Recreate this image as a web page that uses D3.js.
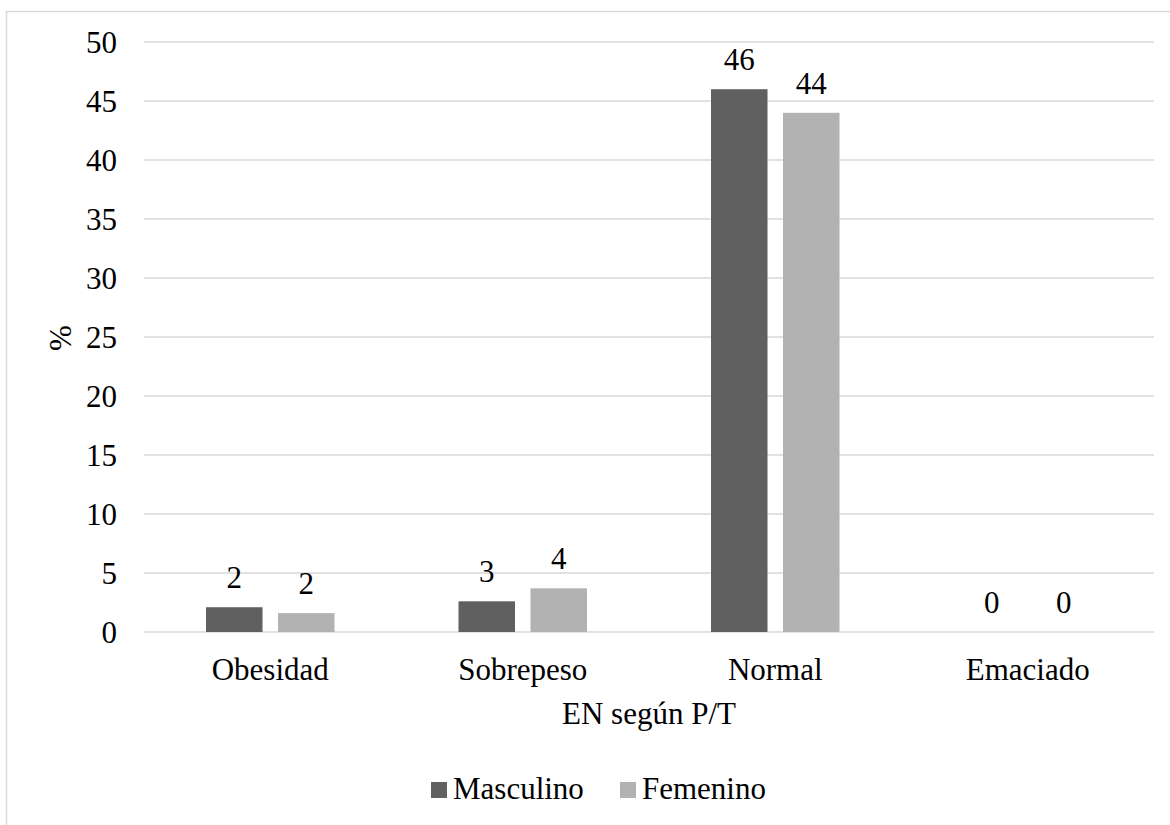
<!DOCTYPE html>
<html>
<head>
<meta charset="utf-8">
<script src="https://cdn.jsdelivr.net/npm/d3@7"></script>
<style>
  html, body { margin: 0; padding: 0; background: #ffffff; }
  svg { display: block; }
  svg text { font-family: "Liberation Serif", "Times New Roman", Tinos, "DejaVu Serif", serif; fill: #000; }
</style>
</head>
<body>
<svg id="chart" width="1170" height="825"></svg>
<script>
// Nutritional status by weight-for-height (P/T), percentage per sex
const categories = ["Obesidad", "Sobrepeso", "Normal", "Emaciado"];
const seriesNames = ["Masculino", "Femenino"];
const masculino = [2.1, 2.6, 46.0, 0];
const femenino = [1.6, 3.7, 44.0, 0];
const yTicks = [0, 5, 10, 15, 20, 25, 30, 35, 40, 45, 50];
const colors = ["#606060", "#b2b2b2"];

const seriesValues = [masculino, femenino];
const rows = categories.map((c, i) => ({
  category: c,
  values: seriesNames.map((s, j) => ({ series: s, value: seriesValues[j][i], idx: j }))
}));

const W = 1170, H = 825;
const margin = { left: 144, right: 16, top: 42, bottom: 193 };
const plotW = W - margin.left - margin.right;
const plotH = H - margin.top - margin.bottom;
const fontSize = 31;
const serif = '"Liberation Serif", "Times New Roman", Tinos, "DejaVu Serif", serif';

const svg = d3.select("#chart");

// outer chart frame
svg.append("rect")
  .attr("x", 6.5).attr("y", 11.5)
  .attr("width", 1200).attr("height", 900)
  .attr("fill", "#ffffff")
  .attr("stroke", "#d9d9d9").attr("stroke-width", 1.5);

const g = svg.append("g")
  .attr("transform", `translate(${margin.left},${margin.top})`)
  .attr("font-family", serif);

const x0 = d3.scaleBand().domain(categories).range([0, plotW]).padding(0);
const groupHalf = 64.25;
const x1 = d3.scaleBand().domain(seriesNames).range([-groupHalf, groupHalf]).paddingInner(0.215).paddingOuter(0);
const y = d3.scaleLinear().domain([0, 50]).range([plotH, 0]);

// horizontal gridlines
g.append("g")
  .selectAll("line")
  .data(yTicks)
  .join("line")
  .attr("x1", 0).attr("x2", plotW)
  .attr("y1", d => y(d)).attr("y2", d => y(d))
  .attr("stroke", "#d9d9d9").attr("stroke-width", 1.3);

// y axis tick labels
const yAxis = d3.axisLeft(y).tickValues(yTicks).tickSize(0).tickPadding(27).tickFormat(d3.format("d"));
const yAxisG = g.append("g").call(yAxis).attr("font-family", serif).attr("font-size", fontSize);
yAxisG.select(".domain").remove();
yAxisG.selectAll("text")
  .attr("fill", "#000")
  .attr("dy", "0.34em");

// bars
const groups = g.append("g")
  .selectAll("g")
  .data(rows)
  .join("g")
  .attr("transform", d => `translate(${x0(d.category) + x0.bandwidth() / 2},0)`);

groups.selectAll("rect")
  .data(d => d.values)
  .join("rect")
  .attr("x", d => x1(d.series))
  .attr("width", x1.bandwidth())
  .attr("y", d => y(d.value))
  .attr("height", d => y(0) - y(d.value))
  .attr("fill", d => colors[d.idx]);

// value labels
const fmt = d3.format(".0f");
groups.selectAll("text")
  .data(d => d.values)
  .join("text")
  .attr("x", d => x1(d.series) + x1.bandwidth() / 2)
  .attr("y", d => y(d.value) - 19)
  .attr("text-anchor", "middle")
  .attr("font-size", fontSize)
  .text(d => fmt(d.value));

// x axis category labels
const xAxis = d3.axisBottom(x0).tickSize(0).tickPadding(0);
const xAxisG = g.append("g").attr("transform", `translate(0,${plotH})`).call(xAxis)
  .attr("font-family", serif).attr("font-size", fontSize);
xAxisG.select(".domain").remove();
xAxisG.selectAll("text")
  .attr("fill", "#000")
  .attr("dy", null)
  .attr("y", 48);

// axis titles
svg.append("text")
  .attr("x", margin.left + plotW / 2)
  .attr("y", 724)
  .attr("text-anchor", "middle")
  .attr("font-family", serif)
  .attr("font-size", fontSize)
  .text("EN según P/T");

svg.append("text")
  .attr("transform", "translate(71,338) rotate(-90)")
  .attr("text-anchor", "middle")
  .attr("font-family", serif)
  .attr("font-size", fontSize)
  .text("%");

// legend
const legendItems = [
  { name: seriesNames[0], color: colors[0], x: 431 },
  { name: seriesNames[1], color: colors[1], x: 620 }
];
const legend = svg.append("g").attr("font-family", serif);
legend.selectAll("rect")
  .data(legendItems)
  .join("rect")
  .attr("x", d => d.x).attr("y", 782)
  .attr("width", 16).attr("height", 16)
  .attr("fill", d => d.color);
legend.selectAll("text")
  .data(legendItems)
  .join("text")
  .attr("x", d => d.x + 22)
  .attr("y", 799)
  .attr("font-size", fontSize)
  .text(d => d.name);
</script>
</body>
</html>
